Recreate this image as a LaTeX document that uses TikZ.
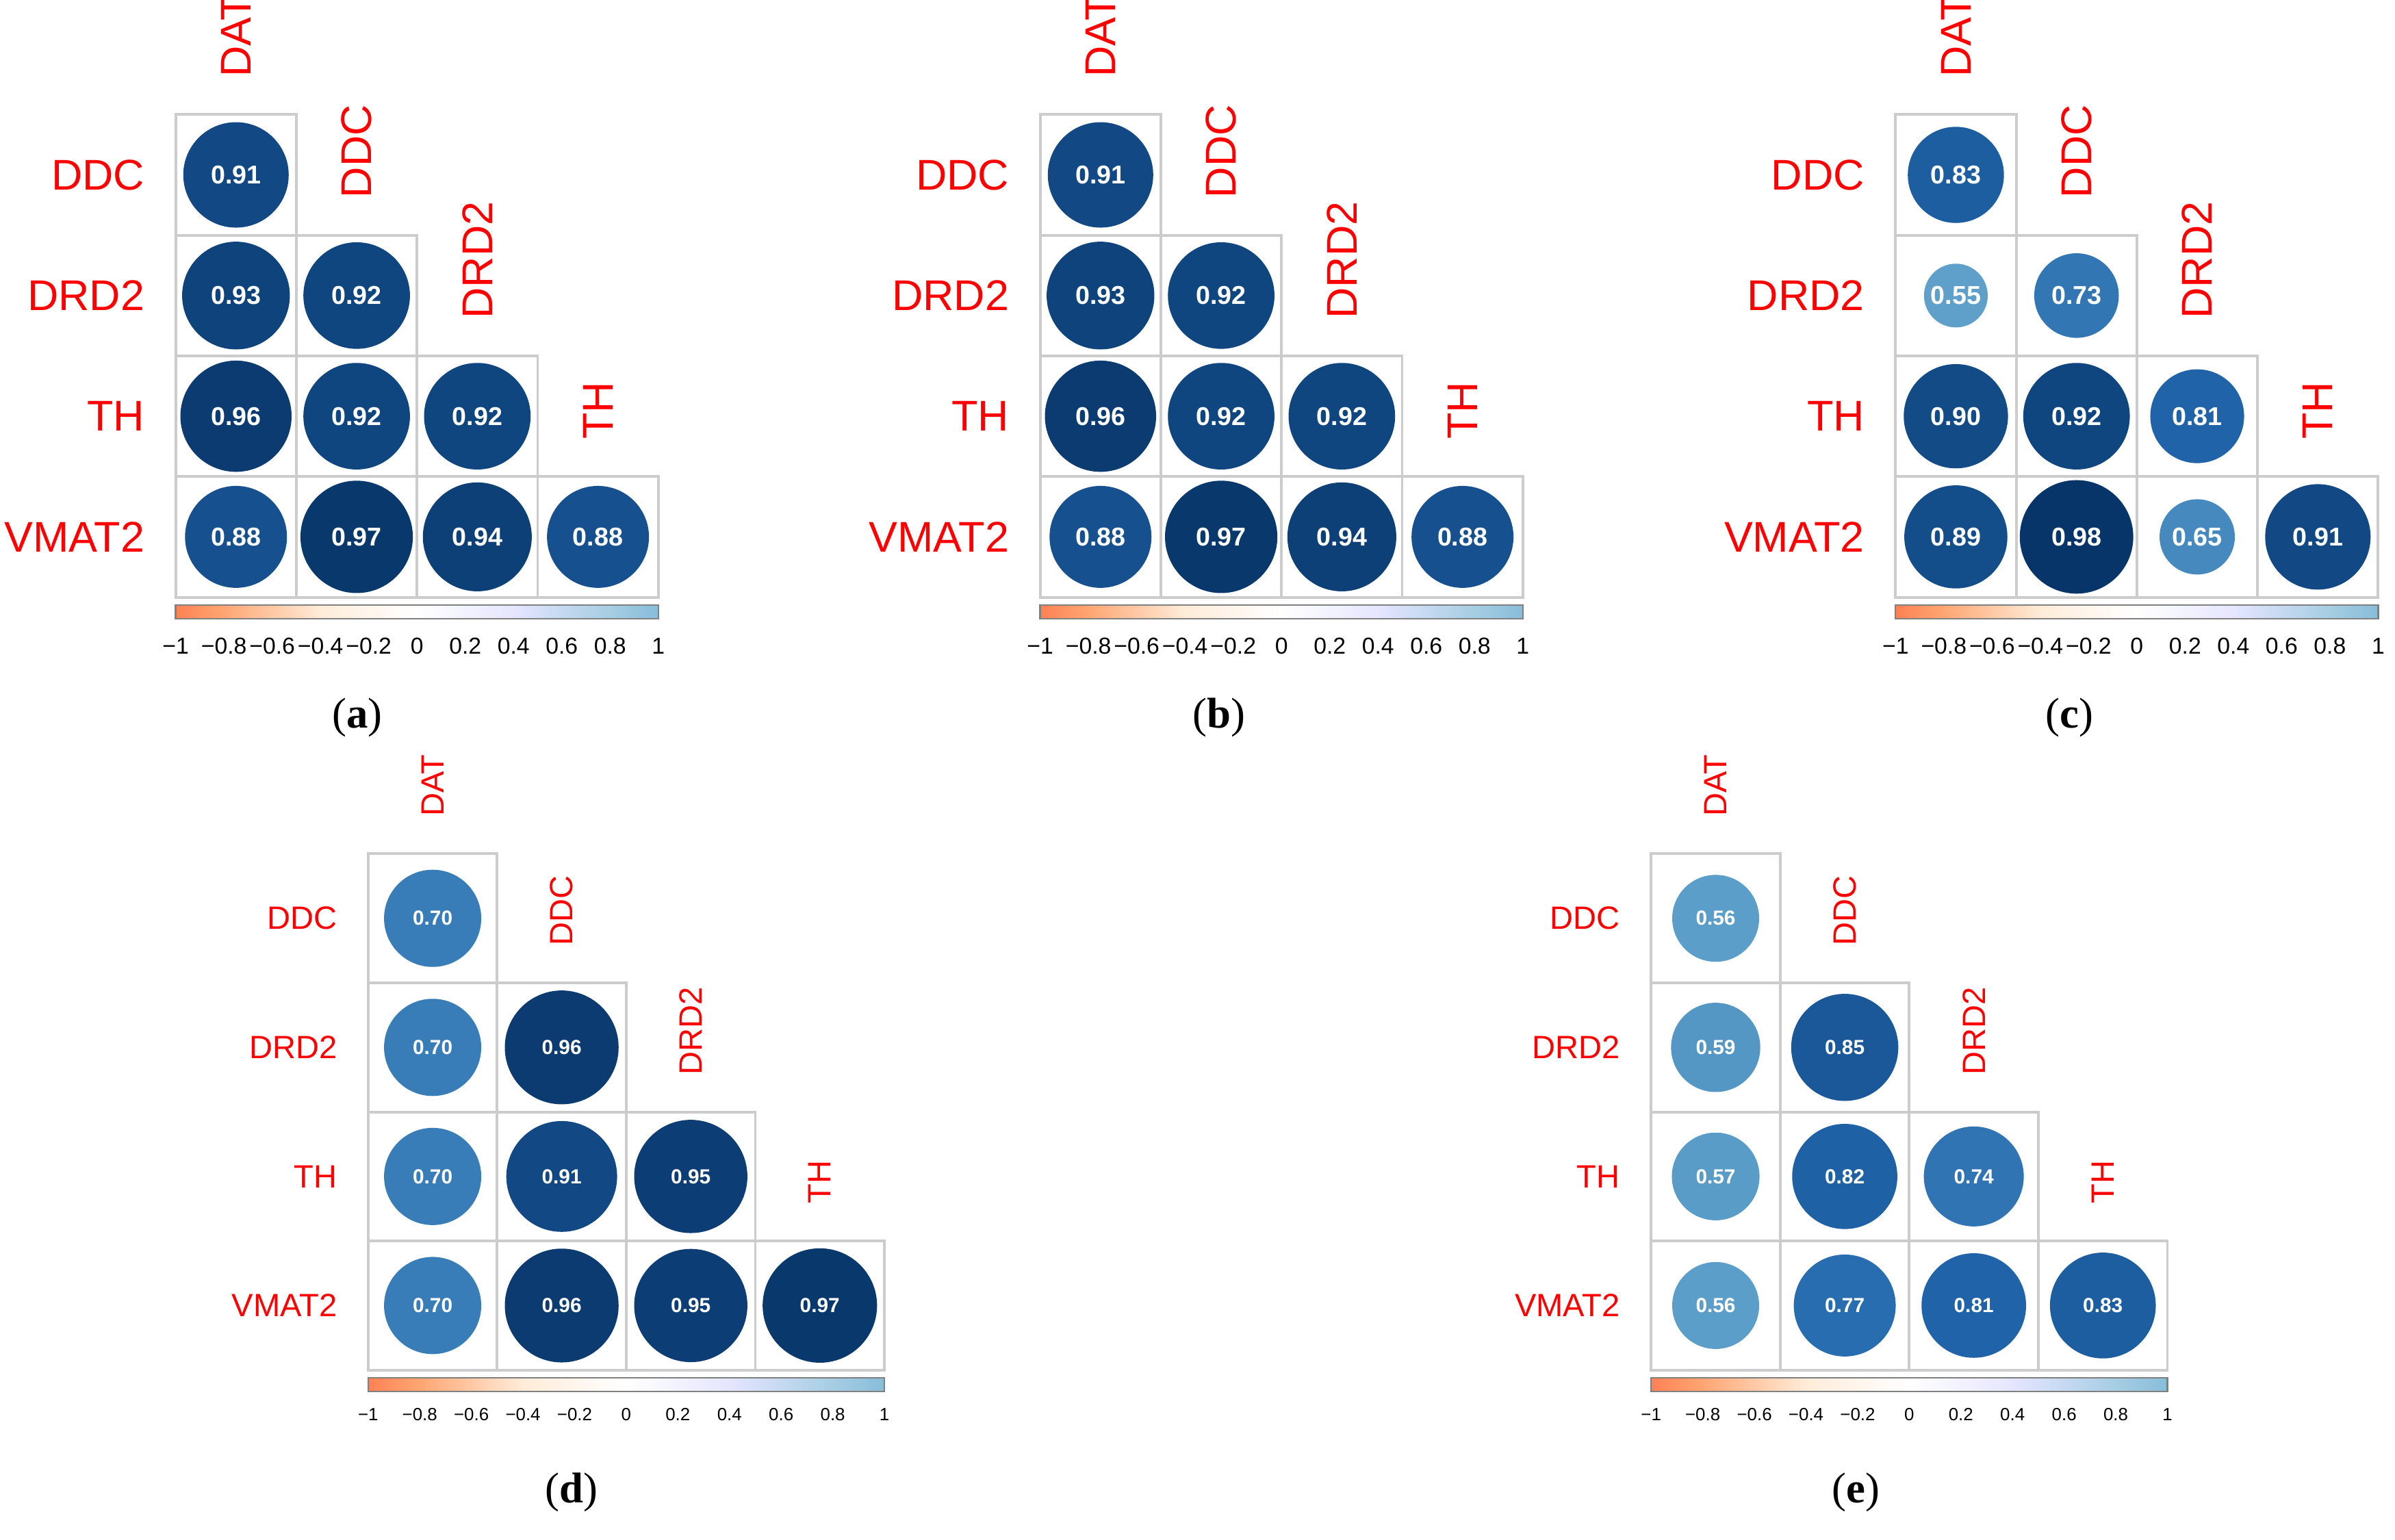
\documentclass[tikz,border=0pt]{standalone}
\usepackage{fontspec}
\setmainfont{Liberation Sans}
\newfontfamily\capfont{Liberation Serif}
\definecolor{c05}{HTML}{6AACD0}
\definecolor{c08}{HTML}{2166AC}
\definecolor{c10}{HTML}{053061}
\definecolor{cellgray}{HTML}{CCCCCC}
\pgfdeclarehorizontalshading{rdbu}{100bp}{
  color(0bp)=(red!40!black); color(10bp)=(red!75!black); color(20bp)=(red!60!orange!80!white);
  color(30bp)=(orange!40!pink); color(40bp)=(orange!15!white); color(50bp)=(white);
  color(60bp)=(blue!10!white); color(70bp)=(c05!60!white); color(80bp)=(c05);
  color(90bp)=(c08); color(100bp)=(c10)}
% #1 x0, #2 y0, #3 cell, #4 mode (0 linear, 1 sqrt), #5 label font, #6 number font, #7 tick font, #8 tick y, #9 values
\newcommand\corrpanel[9]{%
  \begin{scope}[shift={(#1,-#2)}]
    \foreach \lab [count=\i from 0] in {DDC,DRD2,TH,VMAT2}
      \node[anchor=east, text=red, font=#5] at (-8,{-(\i+0.5)*#3}) {\lab};
    \foreach \lab [count=\i from 0] in {DAT,DDC,DRD2,TH}
      \node[anchor=west, rotate=90, text=red, font=#5] at ({(\i+0.5)*#3},{-\i*#3+12}) {\lab};
    \foreach \r/\c/\v in {#9} {
      \draw[cellgray, line width=0.5pt] ({\c*#3},{-\r*#3}) rectangle ++(#3,-#3);
      \pgfmathsetmacro\rad{#4==0 ? 0.48*#3*\v*0.01 : 0.45*#3*sqrt(\v)*0.01}
      \ifdim\v pt>0.8pt
        \pgfmathsetmacro\p{(\v-0.8)/0.2*100}\colorlet{cc}{c10!\p!c08}
      \else
        \pgfmathsetmacro\p{max(0,(\v-0.5)/0.3*100)}\colorlet{cc}{c08!\p!c05}
      \fi
      \fill[cc] ({(\c+0.5)*#3},{-(\r+0.5)*#3}) circle (\rad cm);
      \node[text=white, font=#6] at ({(\c+0.5)*#3},{-(\r+0.5)*#3}) {\v};
    }
    \shade[shading=rdbu] (0,{-4*#3-5}) rectangle ({4*#3},{-4*#3-14});
    \draw[gray, line width=0.3pt] (0,{-4*#3-5}) rectangle ({4*#3},{-4*#3-14});
    \foreach \t/\tl in {-1/−1,-0.8/−0.8,-0.6/−0.6,-0.4/−0.4,-0.2/−0.2,0/0,0.2/0.2,0.4/0.4,0.6/0.6,0.8/0.8,1/1}
      \node[font=#7, inner sep=0pt] at ({(\t+1)/2*4*#3},{-4*#3-#8}) {\tl};
  \end{scope}}
\begin{document}
\begin{tikzpicture}[x=0.01cm,y=0.01cm]
  \useasboundingbox (0,0) rectangle (1568,-1008);
  \def\big{\fontsize{8}{9}\selectfont}
  \def\nbig{\fontsize{4.8}{5}\selectfont\bfseries}
  \def\tbig{\fontsize{4.3}{5}\selectfont}
  \def\sml{\fontsize{6}{7}\selectfont}
  \def\nsml{\fontsize{3.8}{4}\selectfont\bfseries}
  \def\tsml{\fontsize{3.3}{4}\selectfont}
  \corrpanel{115}{75}{79}{0}{\big}{\nbig}{\tbig}{32}{0/0/0.91,1/0/0.93,1/1/0.92,2/0/0.96,2/1/0.92,2/2/0.92,3/0/0.88,3/1/0.97,3/2/0.94,3/3/0.88}
  \corrpanel{681}{75}{79}{0}{\big}{\nbig}{\tbig}{32}{0/0/0.91,1/0/0.93,1/1/0.92,2/0/0.96,2/1/0.92,2/2/0.92,3/0/0.88,3/1/0.97,3/2/0.94,3/3/0.88}
  \corrpanel{1241}{75}{79}{0}{\big}{\nbig}{\tbig}{32}{0/0/0.83,1/0/0.55,1/1/0.73,2/0/0.90,2/1/0.92,2/2/0.81,3/0/0.89,3/1/0.98,3/2/0.65,3/3/0.91}
  \corrpanel{241}{559}{84.5}{1}{\sml}{\nsml}{\tsml}{29}{0/0/0.70,1/0/0.70,1/1/0.96,2/0/0.70,2/1/0.91,2/2/0.95,3/0/0.70,3/1/0.96,3/2/0.95,3/3/0.97}
  \corrpanel{1081}{559}{84.5}{1}{\sml}{\nsml}{\tsml}{29}{0/0/0.56,1/0/0.59,1/1/0.85,2/0/0.57,2/1/0.82,2/2/0.74,3/0/0.56,3/1/0.77,3/2/0.81,3/3/0.83}
  \foreach \x/\y/\l in {234/470/a,798/470/b,1355/470/c,374/977/d,1215/977/e}
    \node[font=\capfont\fontsize{8}{9}\selectfont] (cap\l) at (\x,-\y) {(\textbf{\l})};
\end{tikzpicture}
\end{document}
